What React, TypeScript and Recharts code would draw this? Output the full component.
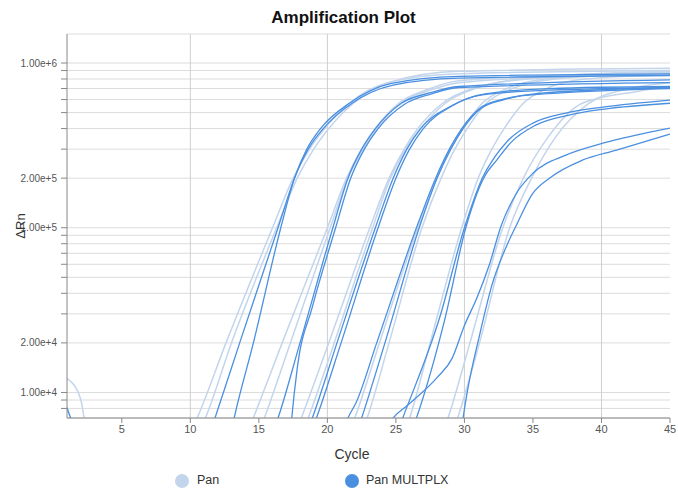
import { LineChart, Line, XAxis, YAxis, CartesianGrid, ReferenceLine } from 'recharts'

type Pt = [number, number] // [cycle, ΔRn]

// Pan (singleplex) wells
const panA1: Pt[] = [[1, 12200], [2, 9100], [2.6, 5000], [9.5, 4700], [10.5, 7000], [12.6, 20000], [16.0, 100000], [17.5, 200000], [18.7, 300000], [19.8, 400000], [21.6, 570000], [24.4, 760000], [29.6, 860000], [45, 900000]]
const panA2: Pt[] = [[10.1, 4700], [11.1, 7000], [13.0, 20000], [16.3, 100000], [17.8, 200000], [19.0, 300000], [20.1, 400000], [21.9, 570000], [24.7, 770000], [29.6, 890000], [45, 930000]]
const panB1: Pt[] = [[13.6, 4300], [14.6, 7000], [16.7, 20000], [20.0, 100000], [21.4, 200000], [22.5, 300000], [23.5, 400000], [25.2, 570000], [27.3, 690000], [29.6, 780000], [45, 880000]]
const panB2: Pt[] = [[14.4, 4300], [15.4, 7000], [17.3, 20000], [20.2, 100000], [21.5, 200000], [22.6, 300000], [23.6, 400000], [25.3, 570000], [27.4, 680000], [29.6, 760000], [45, 870000]]
const panC1: Pt[] = [[17.1, 4300], [18.1, 7000], [20.1, 20000], [23.1, 100000], [24.5, 200000], [25.6, 300000], [26.6, 400000], [28.4, 570000], [30.6, 700000], [34.7, 800000], [45, 860000]]
const panC2: Pt[] = [[17.6, 4300], [18.6, 7000], [20.5, 20000], [23.3, 100000], [24.6, 200000], [25.7, 300000], [26.8, 400000], [28.6, 570000], [30.8, 700000], [35.5, 820000], [45, 890000]]
const panD1: Pt[] = [[21.0, 4300], [22.0, 7000], [23.8, 20000], [26.6, 100000], [28.0, 200000], [29.0, 300000], [29.9, 400000], [31.3, 570000], [33.1, 700000], [35.9, 800000], [45, 880000]]
const panD2: Pt[] = [[21.9, 4300], [22.9, 7000], [24.5, 20000], [26.9, 100000], [28.3, 200000], [29.3, 300000], [30.2, 400000], [31.6, 570000], [33.5, 700000], [36.6, 800000], [45, 870000]]
const panE1: Pt[] = [[25.0, 4300], [26.0, 7000], [27.5, 20000], [29.8, 100000], [31.0, 200000], [32.0, 300000], [32.9, 400000], [34.3, 570000], [36.0, 700000], [38.8, 800000], [45, 850000]]
const panF1: Pt[] = [[27.8, 4200], [28.8, 7000], [30.4, 20000], [32.8, 100000], [34.3, 200000], [36.1, 355000], [38.6, 570000], [42.5, 670000], [45, 720000]]
const panF2: Pt[] = [[28.5, 4200], [29.5, 7000], [31.1, 20000], [33.3, 100000], [34.9, 200000], [36.6, 350000], [39.1, 570000], [42.0, 700000], [45, 760000]]

// Pan MULTPLX wells
const mulA1: Pt[] = [[1, 8100], [1.7, 6000], [10.8, 4000], [11.8, 7000], [13.6, 20000], [16.4, 100000], [17.6, 200000], [18.6, 300000], [19.7, 400000], [21.8, 570000], [24.8, 735000], [29.6, 810000], [45, 840000]]
const mulA2: Pt[] = [[12.6, 4000], [13.2, 7000], [14.6, 20000], [16.6, 100000], [17.6, 200000], [18.5, 300000], [19.5, 400000], [21.6, 570000], [24.6, 750000], [29.6, 830000], [45, 860000]]
const mulB1: Pt[] = [[15.4, 4200], [16.4, 7000], [18.0, 20000], [20.4, 100000], [21.5, 200000], [22.5, 300000], [23.5, 400000], [25.4, 570000], [27.5, 660000], [29.6, 720000], [45, 790000]]
const mulB2: Pt[] = [[17.1, 3500], [17.4, 7000], [17.8, 14000], [18.9, 33000], [20.6, 100000], [21.7, 200000], [22.7, 300000], [23.7, 400000], [25.6, 560000], [27.6, 650000], [29.6, 710000], [45, 760000]]
const mulC1: Pt[] = [[17.9, 4300], [18.9, 7000], [20.7, 20000], [23.5, 100000], [24.8, 200000], [25.8, 300000], [26.8, 400000], [28.9, 540000], [31.3, 640000], [36.2, 685000], [45, 705000]]
const mulC2: Pt[] = [[18.2, 4300], [19.2, 7000], [21.0, 20000], [23.7, 100000], [25.0, 200000], [26.0, 300000], [27.0, 400000], [29.1, 550000], [31.5, 650000], [36.2, 700000], [45, 720000]]
const mulD1: Pt[] = [[20.5, 4000], [21.5, 7000], [22.1, 8700], [23.6, 20000], [26.5, 100000], [27.9, 200000], [28.9, 300000], [29.8, 400000], [31.1, 530000], [32.7, 600000], [34.9, 640000], [45, 700000]]
const mulD2: Pt[] = [[21.5, 4000], [22.5, 7000], [24.2, 20000], [26.7, 100000], [28.0, 200000], [29.0, 300000], [29.9, 400000], [31.2, 530000], [32.9, 600000], [35.1, 650000], [45, 710000]]
const mulE1: Pt[] = [[24.5, 4200], [25.5, 7000], [28.2, 28600], [30.0, 100000], [31.3, 200000], [32.2, 268000], [33.2, 340000], [35.0, 432000], [37.4, 497000], [40.1, 540000], [45, 596000]]
const mulE2: Pt[] = [[25.5, 4200], [26.5, 7000], [28.55, 27400], [30.1, 100000], [31.4, 200000], [32.4, 260000], [33.4, 330000], [35.2, 420000], [37.7, 485000], [40.2, 525000], [45, 570000]]
const mulF1: Pt[] = [[23.8, 5000], [24.8, 7000], [25.8, 8300], [28.0, 12300], [29.1, 16100], [30.0, 25500], [30.9, 37300], [31.8, 59000], [32.7, 104000], [33.8, 162000], [35.0, 214000], [37.4, 276000], [40.1, 326000], [45, 403000]]
const mulF2: Pt[] = [[29.4, 3500], [29.9, 7000], [30.2, 10000], [31.1, 22200], [32.0, 44700], [33.1, 78300], [33.8, 104000], [35.0, 162000], [36.2, 200000], [38.6, 257000], [41.1, 296000], [45, 370000]]

const panCurves = [panA1, panA2, panB1, panB2, panC1, panC2, panD1, panD2, panE1, panF1, panF2]
const mulCurves = [mulA1, mulA2, mulB1, mulB2, mulC1, mulC2, mulD1, mulD2, mulE1, mulE2, mulF1, mulF2]

const xTicks = [5, 10, 15, 20, 25, 30, 35, 40, 45]
const cycleGrid = [10, 20, 30, 40]
const yTicks = [
  8000, 9000,
  10000, 20000, 30000, 40000, 50000, 60000, 70000, 80000, 90000,
  100000, 200000, 300000, 400000, 500000, 600000, 700000, 800000, 900000,
  1000000,
]
const yLabelled = [10000, 20000, 100000, 200000, 1000000]

const PAN = '#c3d5ec'
const MULT = '#4a8fe0'
const W = 678
const H = 494

const rows = (pts: Pt[]) => pts.map(([x, y]) => ({ x, y }))

export default function App() {
  return (
    <div style={{ position: 'absolute', left: 0, top: 0, width: W, height: H, background: '#fff', fontFamily: 'Arial, "Liberation Sans", sans-serif' }}>
      <div style={{ position: 'absolute', left: 0, top: 8, width: 687, textAlign: 'center', fontWeight: 'bold', fontSize: 17, color: '#111' }}>
        Amplification Plot
      </div>
      <LineChart width={W} height={H} margin={{ top: 34, right: 8, bottom: 36, left: 7 }}>
        <CartesianGrid vertical={false} stroke="#dcdcdc" />
        {cycleGrid.map((c) => (
          <ReferenceLine key={c} x={c} stroke="#cfcfcf" />
        ))}
        <XAxis
          type="number"
          dataKey="x"
          domain={[1, 45]}
          ticks={xTicks}
          interval={0}
          allowDataOverflow
          height={40}
          stroke="#888"
          tickSize={5}
          tick={{ fontSize: 11, fill: '#555' }}
        />
        <YAxis
          type="number"
          scale="log"
          domain={[7000, 1500000]}
          ticks={yTicks}
          interval={0}
          allowDataOverflow
          width={60}
          stroke="#888"
          tickSize={6}
          tickMargin={4}
          tick={{ fontSize: 10, fill: '#555' }}
          tickFormatter={(v: number) => (yLabelled.includes(v) ? v.toExponential(2) : '')}
        />
        {panCurves.map((c, i) => (
          <Line key={`pan-${i}`} data={rows(c)} dataKey="y" type="monotone" stroke={PAN} strokeWidth={1.5} dot={false} activeDot={false} isAnimationActive={false} />
        ))}
        {mulCurves.map((c, i) => (
          <Line key={`mul-${i}`} data={rows(c)} dataKey="y" type="monotone" stroke={MULT} strokeWidth={1.3} dot={false} activeDot={false} isAnimationActive={false} />
        ))}
      </LineChart>
      <div style={{ position: 'absolute', left: 1, top: 218, width: 40, height: 16, lineHeight: '16px', textAlign: 'center', fontSize: 13, color: '#333', transform: 'rotate(-90deg)' }}>
        ΔRn
      </div>
      <div style={{ position: 'absolute', left: 302, top: 446, width: 100, textAlign: 'center', fontSize: 14, color: '#333' }}>
        Cycle
      </div>
      <div style={{ position: 'absolute', left: 175, top: 474, width: 14, height: 14, borderRadius: 7, background: PAN }} />
      <div style={{ position: 'absolute', left: 197, top: 473, fontSize: 12.5, color: '#333' }}>Pan</div>
      <div style={{ position: 'absolute', left: 345, top: 474, width: 14, height: 14, borderRadius: 7, background: MULT }} />
      <div style={{ position: 'absolute', left: 366, top: 473, fontSize: 12.5, color: '#333' }}>Pan MULTPLX</div>
    </div>
  )
}
